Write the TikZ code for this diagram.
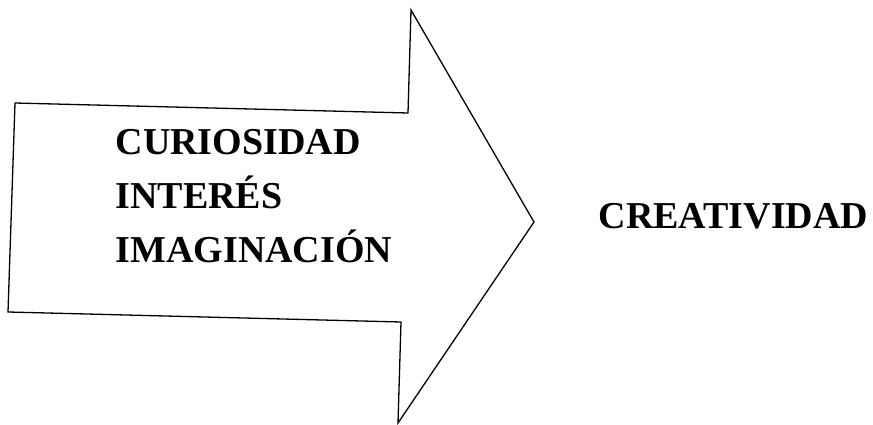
\documentclass[tikz,border=0pt]{standalone}
\usepackage{fontspec}
\setmainfont{Liberation Serif}
\usepackage{tikz}

\begin{document}
\begin{tikzpicture}[x=1pt, y=-1pt, line width=1.3pt,
  word/.style={font=\fontsize{38}{40}\selectfont\bfseries, inner sep=0pt, anchor=base west}]

\useasboundingbox (0,0) rectangle (873,425);

% block arrow
\draw[line join=miter] (15,103) -- (408,113) -- (411,10) -- (534,222)
  -- (398,423) -- (401,322) -- (8,312) -- cycle;

\node[word] (curiosidad) at (115,155) {CURIOSIDAD};
\node[word] (interes) at (115,208) {INTERÉS};
\node[word] (imaginacion) at (115,262) {IMAGINACIÓN};

\node[word] (creatividad) at (598,228) {CREATIVIDAD};

\end{tikzpicture}
\end{document}
